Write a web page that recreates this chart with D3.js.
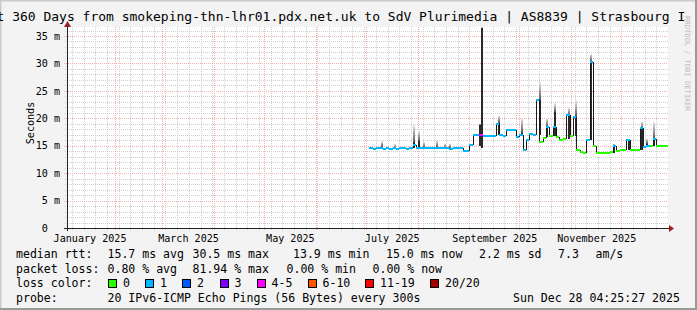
<!DOCTYPE html>
<html>
<head>
<meta charset="utf-8">
<script src="https://cdn.jsdelivr.net/npm/d3@7"></script>
<style>
  body { margin: 0; background: #f3f3f3; }
  svg { display: block; }
</style>
</head>
<body>
<svg id="chart"></svg>
<script>
// ---- values ----
const rangeStart = "2025-01-03";
const rangeDays = 360;
const yMaxMs = 36.64;
const yTicks = [0, 5, 10, 15, 20, 25, 30, 35];
const labelMonths = ["2025-01-01", "2025-03-01", "2025-05-01", "2025-07-01", "2025-09-01", "2025-11-01"];

// median rtt, one sample every 2 days from medianStart
const medianStart = "2025-07-03";
const medianStepDays = 2;
const medianMs = [
  14.5, 14.4, 14.5, 14.5, 14.4, 14.5, 14.4, 14.5, 14.4, 14.5,
  14.5, 14.4, 14.6, 15.1, 14.6, 14.5, 14.6, 14.5, 14.5, 14.5,
  14.6, 14.5, 14.5, 14.5, 14.4, 14.5, 14.5, 14.5, 14.1, 14.0,
  15.1, 16.9, 16.9, 17.0, 16.8, 16.8, 16.7, 16.8, 19.0, 16.9,
  16.8, 17.9, 17.9, 17.8, 16.5, 17.0, 14.3, 16.0, 17.2, 17.0,
  23.3, 15.7, 16.4, 18.5, 16.8, 18.5, 16.6, 16.0, 16.3, 20.6,
  16.8, 20.3, 14.2, 13.9, 13.7, 16.0, 30.3, 15.0, 13.7, 13.7,
  13.6, 13.7, 13.8, 15.0, 14.0, 14.2, 14.3, 16.0, 14.2, 14.2,
  14.2, 18.2, 14.8, 15.0, 15.0, 16.2, 15.0, 15.0, 15.0, 15.0
];
// lost pings (of 20) for each median sample
const lossPings = [
  1, 1, 1, 1, 1, 1, 1, 1, 1, 1,
  1, 1, 1, 1, 1, 1, 1, 1, 1, 1,
  1, 1, 1, 1, 1, 1, 1, 1, 1, 1,
  1, 1, 1, 4, 1, 1, 1, 1, 1, 1,
  1, 1, 1, 1, 1, 1, 1, 1, 1, 1,
  1, 0, 0, 1, 0, 1, 0, 0, 0, 1,
  0, 1, 0, 0, 0, 1, 1, 0, 0, 0,
  0, 0, 0, 1, 0, 0, 0, 1, 0, 0,
  0, 1, 1, 1, 0, 1, 0, 0, 0, 0
];

// smoke spikes: date, low end, top of dense part, top of faint part (ms)
const spikeDates = [
  "2025-07-10", "2025-07-18", "2025-07-29", "2025-08-01", "2025-08-04", "2025-08-12",
  "2025-08-17", "2025-08-20", "2025-09-07", "2025-09-08", "2025-09-18", "2025-10-02",
  "2025-10-13", "2025-10-17", "2025-10-22", "2025-10-30", "2025-11-03", "2025-11-12",
  "2025-11-26", "2025-12-05", "2025-12-13", "2025-12-16", "2025-12-20"
];
const spikeLow  = [14.5, 14.4, 14.6, 14.5, 14.5, 14.5, 14.5, 14.5, 14.9, 14.6, 17.0, 16.8, 17.0, 16.5, 16.8, 16.3, 16.8, 16.0, 13.7, 14.3, 14.2, 15.0, 15.0];
const spikeDark = [14.8, 14.6, 15.6, 15.8, 14.7, 14.7, 14.6, 14.6, 18.8, 36.4, 19.2, 17.4, 23.3, 18.5, 21.2, 20.6, 20.3, 30.3, 15.0, 16.0, 18.2, 15.4, 16.2];
const spikeTop  = [15.8, 15.3, 18.8, 17.7, 15.7, 16.0, 15.4, 15.4, 19.0, 36.6, 20.5, 20.0, 26.7, 20.0, 22.7, 21.9, 23.3, 31.8, 15.4, 16.3, 19.4, 16.3, 19.4];

const lossLabels = ["0", "1", "2", "3", "4-5", "6-10", "11-19", "20/20"];
const lossColors = ["#26ff00", "#00b8ff", "#0059ff", "#7e00ff", "#ff00ff", "#ff5500", "#ff0000", "#a10000"];
const rttStats = ["15.7 ms avg", "30.5 ms max", "13.9 ms min", "15.0 ms now", "2.2 ms sd", "7.3", "am/s"];
const lossStats = ["0.80 % avg", "81.94 % max", "0.00 % min", "0.00 % now"];
const probeText = "20 IPv6-ICMP Echo Pings (56 Bytes) every 300s";
const stampText = "Sun Dec 28 04:25:27 2025";
const titleText = "Last 360 Days from smokeping-thn-lhr01.pdx.net.uk to SdV Plurimedia | AS8839 | Strasbourg I";

// ---- drawing ----
const W = 697, H = 310;
const plot = { left: 67, right: 668, top: 27, bottom: 228 };
const mono = "'DejaVu Sans Mono', monospace";
const DAY = 864e5;
const parse = d3.utcParse("%Y-%m-%d");

const svg = d3.select("#chart").attr("width", W).attr("height", H);

const t0 = parse(rangeStart);
const t1 = new Date(+t0 + rangeDays * DAY);
const x = d3.scaleUtc().domain([t0, t1]).range([plot.left, plot.right]);
const y = d3.scaleLinear().domain([0, yMaxMs]).range([plot.bottom, plot.top]);
const px = (v) => Math.round(v) + 0.5;

function lossIndex(n) {
  if (n <= 3) return n;
  if (n <= 5) return 4;
  if (n <= 10) return 5;
  if (n <= 19) return 6;
  return 7;
}

// frame
svg.append("rect").attr("width", W).attr("height", H).attr("fill", "#f3f3f3");
svg.append("path").attr("d", `M0.5,${H} V0.5 H${W}`).attr("fill", "none").attr("stroke", "#cbcbcb").attr("stroke-width", 2);
svg.append("path").attr("d", `M0,${H - 1} H${W - 1} V0`).attr("fill", "none").attr("stroke", "#999").attr("stroke-width", 2);

// canvas
svg.append("rect")
  .attr("x", plot.left).attr("y", plot.top)
  .attr("width", plot.right - plot.left).attr("height", plot.bottom - plot.top)
  .attr("fill", "#fff");

const defs = svg.append("defs");
const grad = defs.append("linearGradient").attr("id", "smoke")
  .attr("x1", 0).attr("y1", 1).attr("x2", 0).attr("y2", 0);
grad.append("stop").attr("offset", 0).attr("stop-color", "#555");
grad.append("stop").attr("offset", 1).attr("stop-color", "#e8e8e8");
defs.append("clipPath").attr("id", "plotclip").append("rect")
  .attr("x", plot.left).attr("y", plot.top - 2)
  .attr("width", plot.right - plot.left).attr("height", plot.bottom - plot.top + 2);

// grid
const grid = svg.append("g").attr("shape-rendering", "crispEdges");
const minorY = d3.range(1, Math.floor(yMaxMs) + 1).filter((v) => v % 5 !== 0);
const majorY = yTicks.filter((v) => v > 0);
const majorX = d3.utcMonth.range(t0, t1);
const minorX = d3.utcMonday.range(t0, t1).filter((d) => d.getUTCDate() !== 1);

grid.selectAll(".hmin").data(minorY).join("line").attr("class", "hmin")
  .attr("x1", plot.left - 2).attr("x2", plot.right)
  .attr("y1", (d) => px(y(d))).attr("y2", (d) => px(y(d)))
  .attr("stroke", "#cfcfcf").attr("stroke-dasharray", "1,1");
grid.selectAll(".vmin").data(minorX).join("line").attr("class", "vmin")
  .attr("x1", (d) => px(x(d))).attr("x2", (d) => px(x(d)))
  .attr("y1", plot.top).attr("y2", plot.bottom + 2)
  .attr("stroke", "#cfcfcf").attr("stroke-dasharray", "1,1");
grid.selectAll(".hmaj").data(majorY).join("line").attr("class", "hmaj")
  .attr("x1", plot.left - 3).attr("x2", plot.right)
  .attr("y1", (d) => px(y(d))).attr("y2", (d) => px(y(d)))
  .attr("stroke", "#f5b0b0").attr("stroke-dasharray", "1,1");
grid.selectAll(".vmaj").data(majorX).join("line").attr("class", "vmaj")
  .attr("x1", (d) => px(x(d))).attr("x2", (d) => px(x(d)))
  .attr("y1", plot.top).attr("y2", plot.bottom + 3)
  .attr("stroke", "#f5b0b0").attr("stroke-dasharray", "1,1");

// data
const m0 = parse(medianStart);
const samples = medianMs.map((v, i) => ({
  t: new Date(+m0 + i * medianStepDays * DAY),
  t2: new Date(+m0 + (i + 1) * medianStepDays * DAY),
  v,
  prev: i > 0 ? medianMs[i - 1] : v,
  loss: lossPings[i]
}));
const spikes = spikeDates.map((d, i) => ({
  t: parse(d), lo: spikeLow[i], dark: spikeDark[i], top: spikeTop[i]
}));

const data = svg.append("g").attr("clip-path", "url(#plotclip)").attr("shape-rendering", "crispEdges");

data.selectAll(".fade").data(spikes).join("rect").attr("class", "fade")
  .attr("x", (d) => Math.round(x(d.t)))
  .attr("width", 2)
  .attr("y", (d) => y(d.top))
  .attr("height", (d) => Math.max(0, y(d.dark) - y(d.top)))
  .attr("fill", "url(#smoke)");
data.selectAll(".dark").data(spikes).join("rect").attr("class", "dark")
  .attr("x", (d) => Math.round(x(d.t)))
  .attr("width", 2)
  .attr("y", (d) => y(d.dark))
  .attr("height", (d) => Math.max(1, y(d.lo) - y(d.dark)))
  .attr("fill", "#2a2a2a");

data.selectAll(".riser").data(samples.slice(1)).join("line").attr("class", "riser")
  .attr("x1", (d) => Math.round(x(d.t)) + 0.5).attr("x2", (d) => Math.round(x(d.t)) + 0.5)
  .attr("y1", (d) => y(d.prev)).attr("y2", (d) => y(d.v))
  .attr("stroke", "#1a1a1a").attr("stroke-width", 1);

data.selectAll(".seg").data(samples).join("line").attr("class", "seg")
  .attr("x1", (d) => Math.round(x(d.t)))
  .attr("x2", (d) => Math.round(x(d.t2)))
  .attr("y1", (d) => y(d.v)).attr("y2", (d) => y(d.v))
  .attr("stroke", (d) => lossColors[lossIndex(d.loss)])
  .attr("stroke-width", 2);

// axes
const yAxis = d3.axisLeft(y).tickValues(yTicks).tickSize(0).tickPadding(7)
  .tickFormat((d) => (d === 0 ? "0  " : `${d} m`));
const gy = svg.append("g").attr("transform", `translate(${plot.left},0)`).call(yAxis)
  .attr("font-family", mono).attr("font-size", 10.1);
gy.select(".domain").remove();
gy.selectAll("text").attr("fill", "#000").style("white-space", "pre");

const labelTimes = labelMonths.map((s) => {
  const a = parse(s);
  return new Date((+a + +d3.utcMonth.offset(a, 1)) / 2);
});
const xAxis = d3.axisBottom(x).tickValues(labelTimes).tickSize(0).tickPadding(7)
  .tickFormat((d) => d3.utcFormat("%B %Y")(d));
const gx = svg.append("g").attr("transform", `translate(0,${plot.bottom})`).call(xAxis)
  .attr("font-family", mono).attr("font-size", 10.1);
gx.select(".domain").remove();
gx.selectAll("text").attr("fill", "#000");

// axis lines and arrows
const axisColor = "#222", arrowColor = "#9c1f1f";
svg.append("line").attr("x1", plot.left - 3).attr("x2", plot.right + 2)
  .attr("y1", plot.bottom + 0.5).attr("y2", plot.bottom + 0.5)
  .attr("stroke", axisColor).attr("shape-rendering", "crispEdges");
svg.append("line").attr("x1", plot.left + 0.5).attr("x2", plot.left + 0.5)
  .attr("y1", plot.bottom + 3).attr("y2", plot.top - 3)
  .attr("stroke", axisColor).attr("shape-rendering", "crispEdges");
svg.append("path")
  .attr("d", `M${plot.right + 1},${plot.bottom - 3} L${plot.right + 6},${plot.bottom + 0.5} L${plot.right + 1},${plot.bottom + 4} Z`)
  .attr("fill", arrowColor);
svg.append("path")
  .attr("d", `M${plot.left - 3},${plot.top} L${plot.left + 0.5},${plot.top - 6} L${plot.left + 4},${plot.top} Z`)
  .attr("fill", arrowColor);

// titles
svg.append("text").attr("x", -27).attr("y", 21)
  .attr("font-family", mono).attr("font-size", 13).text(titleText);
svg.append("text")
  .attr("transform", `translate(34,123) rotate(-90)`)
  .attr("text-anchor", "middle")
  .attr("font-family", mono).attr("font-size", 10.1).text("Seconds");
svg.append("text")
  .attr("transform", `translate(685,16) rotate(90)`)
  .attr("font-family", mono).attr("font-size", 7.2).attr("fill", "#bdbdbd")
  .text("RRDTOOL / TOBI OETIKER");

// legend
const legend = svg.append("g").attr("font-family", mono).attr("font-size", 11.56);
const rows = [258, 272.7, 287.4, 302];
const col0 = 16;
legend.append("text").attr("x", col0).attr("y", rows[0]).text("median rtt:");
const rttX = [107.5, 192.5, 293, 386, 479, 558, 595.5];
legend.selectAll(".rtt").data(rttStats).join("text").attr("class", "rtt")
  .attr("x", (d, i) => rttX[i]).attr("y", rows[0]).text((d) => d);

legend.append("text").attr("x", col0).attr("y", rows[1]).text("packet loss:");
const lossX = [107.5, 192.5, 286.5, 372.5];
legend.selectAll(".lst").data(lossStats).join("text").attr("class", "lst")
  .attr("x", (d, i) => lossX[i]).attr("y", rows[1]).text((d) => d);

legend.append("text").attr("x", col0).attr("y", rows[2]).text("loss color:");
const swX = [108, 145, 182, 219.5, 256.5, 307.5, 365, 430];
const sw = legend.selectAll(".sw").data(lossLabels).join("g").attr("class", "sw")
  .attr("transform", (d, i) => `translate(${swX[i]},${rows[2] - 8.5})`);
sw.append("rect").attr("x", 0.5).attr("y", 0.5).attr("width", 8).attr("height", 8)
  .attr("fill", (d, i) => lossColors[i]).attr("stroke", "#000").attr("stroke-width", 1)
  .attr("shape-rendering", "crispEdges");
sw.append("text").attr("x", 15).attr("y", 8.5).text((d) => d);

legend.append("text").attr("x", col0).attr("y", rows[3]).text("probe:");
legend.append("text").attr("x", 107.5).attr("y", rows[3]).text(probeText);
legend.append("text").attr("x", 513).attr("y", rows[3]).text(stampText);
</script>
</body>
</html>
